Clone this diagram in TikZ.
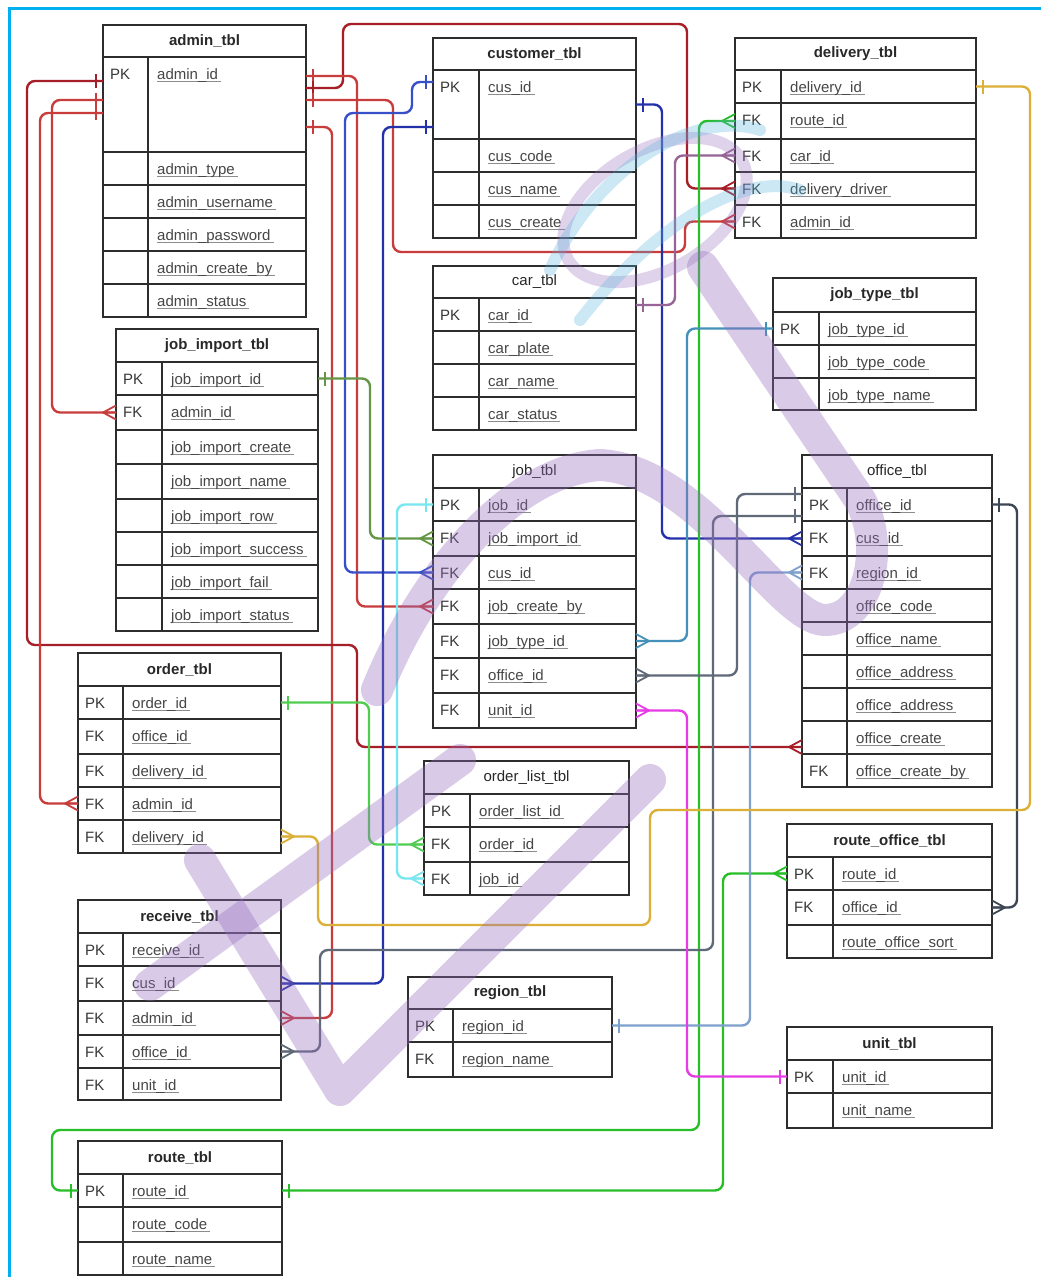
\documentclass[tikz,border=0pt]{standalone}
\usepackage{fontspec}
\setmainfont{Liberation Sans}
\usetikzlibrary{calc}

\definecolor{tline}{RGB}{45,45,45}
\definecolor{htext}{RGB}{40,40,40}
\definecolor{ktext}{RGB}{55,55,55}
\definecolor{ftext}{RGB}{70,70,70}
\definecolor{ulgray}{RGB}{140,140,140}
\definecolor{cyanb}{RGB}{0,175,240}
\definecolor{dred}{RGB}{165,30,40}
\definecolor{rred}{RGB}{200,60,60}
\definecolor{dblue}{RGB}{35,50,170}
\definecolor{mblue}{RGB}{55,80,200}
\definecolor{mauve}{RGB}{150,100,150}
\definecolor{grn}{RGB}{40,190,40}
\definecolor{lgrn}{RGB}{80,205,80}
\definecolor{olivg}{RGB}{100,150,70}
\definecolor{cyanl}{RGB}{120,230,240}
\definecolor{tealc}{RGB}{70,145,185}
\definecolor{slate}{RGB}{95,105,120}
\definecolor{dslate}{RGB}{60,70,85}
\definecolor{steel}{RGB}{125,160,205}
\definecolor{magc}{RGB}{230,60,230}
\definecolor{goldc}{RGB}{220,175,55}
\definecolor{lav}{RGB}{150,110,190}
\definecolor{swirlb}{RGB}{90,180,225}

\newsavebox\fldbox
\newcommand\fld[1]{\sbox\fldbox{#1}\rlap{\color{ulgray}\rule[-2.4pt]{\dimexpr\wd\fldbox+3pt\relax}{0.8pt}}\usebox\fldbox}

\tikzset{
  hdrcell/.style={draw=tline, line width=1.3pt, fill=white, anchor=north west, inner sep=0pt, outer sep=0pt, font=\fontsize{15}{18}\selectfont\bfseries, text=htext},
  rowcell/.style={draw=tline, line width=1.3pt, fill=white, anchor=north west, inner sep=0pt, outer sep=0pt},
  keytxt/.style={anchor=base west, inner sep=0pt, font=\fontsize{15}{18}\selectfont, text=ktext},
  fldtxt/.style={anchor=base west, inner sep=0pt, font=\fontsize{15}{18}\selectfont, text=ftext},
  cn/.style={line width=2.4pt, rounded corners=8pt},
  wm/.style={lav, line width=32pt, line cap=round, line join=round},
  erone/.pic={\draw[line width=2.2pt] (7,-7) -- (7,7);},
  ermany/.pic={\draw[line width=1.8pt] (0,-7) -- (13,0) -- (0,7) (0,0) -- (13,0);},
}

% #1 name, #2 x1, #3 x2, #4 divider x, #5 top, #6 header bottom, #7 title, #8 rows
\newcommand\erTable[8]{%
  \node[hdrcell, minimum width={(#3-#2)*1pt}, minimum height={(#6-#5)*1pt}] (#1-h) at (#2,#5) {#7};
  \foreach \rA/\rB/\rK/\rF [count=\ri] in {#8} {
    \node[rowcell, minimum width={(#3-#2)*1pt}, minimum height={(\rB-\rA)*1pt}] (#1-\ri) at (#2,\rA) {};
    \draw[tline, line width=1.3pt] (#4,\rA) -- (#4,\rB);
    \node[keytxt] at (#2+7,\rA+22.5) {\rK};
    \node[fldtxt] at (#4+9,\rA+22.5) {\fld{\rF}};
  }%
}
\newcommand\tickat[3]{\pic[color=#1,rotate=#3] at (#2) {erone};}
\newcommand\footat[3]{\pic[color=#1,rotate=#3] at (#2) {ermany};}

\begin{document}
\begin{tikzpicture}[x=1pt,y=-1pt]
\useasboundingbox (0,0) rectangle (1041,1277);
\fill[white] (0,0) rectangle (1041,1277);
\draw[cyanb, line width=3pt] (9.5,1277) -- (9.5,8) -- (1041,8);

% ---------------- tables ----------------
\erTable{admin}{103}{306}{148}{25}{57}{admin\_tbl}{57/152/PK/admin\_id, 152/185//admin\_type, 185/218//admin\_username, 218/251//admin\_password, 251/284//admin\_create\_by, 284/317//admin\_status}
\erTable{customer}{433}{636}{479}{38}{70}{customer\_tbl}{70/139/PK/cus\_id, 139/172//cus\_code, 172/205//cus\_name, 205/238//cus\_create}
\erTable{delivery}{735}{976}{781}{38}{70}{delivery\_tbl}{70/103/PK/delivery\_id, 103/139/FK/route\_id, 139/172/FK/car\_id, 172/205/FK/delivery\_driver, 205/238/FK/admin\_id}
\erTable{car}{433}{636}{479}{266}{298}{\mdseries car\_tbl}{298/331/PK/car\_id, 331/364//car\_plate, 364/397//car\_name, 397/430//car\_status}
\erTable{jtype}{773}{976}{819}{278}{312}{job\_type\_tbl}{312/345/PK/job\_type\_id, 345/378//job\_type\_code, 378/410//job\_type\_name}
\erTable{jimp}{116}{318}{162}{329}{362}{job\_import\_tbl}{362/395/PK/job\_import\_id, 395/430/FK/admin\_id, 430/464//job\_import\_create, 464/499//job\_import\_name, 499/532//job\_import\_row, 532/565//job\_import\_success, 565/598//job\_import\_fail, 598/631//job\_import\_status}
\erTable{job}{433}{636}{479}{455}{488}{\mdseries job\_tbl}{488/521/PK/job\_id, 521/556/FK/job\_import\_id, 556/589/FK/cus\_id, 589/624/FK/job\_create\_by, 624/658/FK/job\_type\_id, 658/693/FK/office\_id, 693/728/FK/unit\_id}
\erTable{office}{802}{992}{847}{455}{488}{\mdseries office\_tbl}{488/521/PK/office\_id, 521/556/FK/cus\_id, 556/589/FK/region\_id, 589/622//office\_code, 622/655//office\_name, 655/688//office\_address, 688/721//office\_address, 721/754//office\_create, 754/787/FK/office\_create\_by}
\erTable{order}{78}{281}{123}{653}{686}{order\_tbl}{686/719/PK/order\_id, 719/754/FK/office\_id, 754/787/FK/delivery\_id, 787/820/FK/admin\_id, 820/853/FK/delivery\_id}
\erTable{olist}{424}{629}{470}{761}{794}{\mdseries order\_list\_tbl}{794/827/PK/order\_list\_id, 827/862/FK/order\_id, 862/895/FK/job\_id}
\erTable{receive}{78}{281}{123}{900}{933}{receive\_tbl}{933/966/PK/receive\_id, 966/1001/FK/cus\_id, 1001/1035/FK/admin\_id, 1035/1068/FK/office\_id, 1068/1100/FK/unit\_id}
\erTable{region}{408}{612}{453}{977}{1009}{region\_tbl}{1009/1042/PK/region\_id, 1042/1077/FK/region\_name}
\erTable{rofc}{787}{992}{833}{824}{857}{route\_office\_tbl}{857/890/PK/route\_id, 890/925/FK/office\_id, 925/958//route\_office\_sort}
\erTable{unit}{787}{992}{833}{1027}{1060}{unit\_tbl}{1060/1093/PK/unit\_id, 1093/1128//unit\_name}
\erTable{route}{78}{282}{123}{1141}{1174}{route\_tbl}{1174/1207/PK/route\_id, 1207/1242//route\_code, 1242/1275//route\_name}

% ---------------- connector end points off row centres ----------------
\coordinate (adR76) at ([yshift=28.5pt]admin-1.east);
\coordinate (adR88) at ([yshift=16.5pt]admin-1.east);
\coordinate (adR100) at ([yshift=4.5pt]admin-1.east);
\coordinate (adR127) at ([yshift=-22.5pt]admin-1.east);
\coordinate (adL81) at ([yshift=23.5pt]admin-1.west);
\coordinate (adL100) at ([yshift=4.5pt]admin-1.west);
\coordinate (adL113) at ([yshift=-8.5pt]admin-1.west);
\coordinate (cuL82) at ([yshift=22.5pt]customer-1.west);
\coordinate (cuL127) at ([yshift=-22.5pt]customer-1.west);
\coordinate (carR) at ([yshift=9.5pt]car-1.east);
\coordinate (ofL494) at ([yshift=10.5pt]office-1.west);
\coordinate (ofL516) at ([yshift=-11.5pt]office-1.west);
\coordinate (ofc747) at ([yshift=-9.5pt]office-8.west);

% ---------------- connectors ----------------
\draw[cn,dred] (adR88) -| (343,24) -| ([xshift=-48pt]delivery-4.west) -- (delivery-4.west);
\draw[cn,rred] (adR76) -| ([xshift=-76pt]job-4.west) -- (job-4.west);
\draw[cn,rred] (adR100) -| (393,252) -| ([xshift=-50pt]delivery-5.west) -- (delivery-5.west);
\draw[cn,rred] (adR127) -| ([xshift=51pt]receive-3.east) -- (receive-3.east);
\draw[cn,dred] (adL81) -| (27,645) -| ([xshift=-445pt]ofc747) -- (ofc747);
\draw[cn,rred] (adL100) -| ([xshift=-64pt]jimp-2.west) -- (jimp-2.west);
\draw[cn,rred] (adL113) -| ([xshift=-38pt]order-4.west) -- (order-4.west);
\draw[cn,mblue] (cuL82) -- (412,82) -- (412,113) -| ([xshift=-88pt]job-3.west) -- (job-3.west);
\draw[cn,dblue] (cuL127) -| ([xshift=102pt]receive-2.east) -- (receive-2.east);
\draw[cn,dblue] (customer-1.east) -| ([xshift=-140pt]office-2.west) -- (office-2.west);
\draw[cn,mauve] (carR) -| ([xshift=-60pt]delivery-3.west) -- (delivery-3.west);
\draw[cn,grn] (route-1.west) -| (52,1130) -| ([xshift=-36pt]delivery-2.west) -- (delivery-2.west);
\draw[cn,grn] (route-1.east) -| ([xshift=-64pt]rofc-1.west) -- (rofc-1.west);
\draw[cn,lgrn] (order-1.east) -| ([xshift=-55pt]olist-2.west) -- (olist-2.west);
\draw[cn,olivg] (jimp-1.east) -| ([xshift=-63pt]job-2.west) -- (job-2.west);
\draw[cn,cyanl] (job-1.west) -| ([xshift=-27pt]olist-3.west) -- (olist-3.west);
\draw[cn,tealc] (jtype-1.west) -| ([xshift=51pt]job-5.east) -- (job-5.east);
\draw[cn,slate] (ofL494) -| ([xshift=101pt]job-6.east) -- (job-6.east);
\draw[cn,slate] (ofL516) -| (713,950) -| ([xshift=39pt]receive-4.east) -- (receive-4.east);
\draw[cn,dslate] (office-1.east) -| ([xshift=25pt]rofc-2.east) -- (rofc-2.east);
\draw[cn,steel] (region-1.east) -| ([xshift=-52pt]office-3.west) -- (office-3.west);
\draw[cn,magc] (job-7.east) -| ([xshift=-100pt]unit-1.west) -- (unit-1.west);
\draw[cn,goldc] (delivery-1.east) -| (1030,810) -| (650,925) -| ([xshift=37pt]order-5.east) -- (order-5.east);

% ---------------- ends: one (bar) ----------------
\tickat{rred}{adR76}{0}
\tickat{dred}{adR88}{0}
\tickat{rred}{adR100}{0}
\tickat{rred}{adR127}{0}
\tickat{dred}{adL81}{180}
\tickat{rred}{adL100}{180}
\tickat{rred}{adL113}{180}
\tickat{mblue}{cuL82}{180}
\tickat{dblue}{cuL127}{180}
\tickat{dblue}{customer-1.east}{0}
\tickat{mauve}{carR}{0}
\tickat{grn}{route-1.west}{180}
\tickat{grn}{route-1.east}{0}
\tickat{lgrn}{order-1.east}{0}
\tickat{olivg}{jimp-1.east}{0}
\tickat{cyanl}{job-1.west}{180}
\tickat{tealc}{jtype-1.west}{180}
\tickat{slate}{ofL494}{180}
\tickat{slate}{ofL516}{180}
\tickat{dslate}{office-1.east}{0}
\tickat{steel}{region-1.east}{0}
\tickat{magc}{unit-1.west}{180}
\tickat{goldc}{delivery-1.east}{0}

% ---------------- ends: many (crow's foot) ----------------
\footat{dred}{delivery-4.west}{180}
\footat{rred}{job-4.west}{180}
\footat{rred}{delivery-5.west}{180}
\footat{rred}{receive-3.east}{0}
\footat{dred}{ofc747}{180}
\footat{rred}{jimp-2.west}{180}
\footat{rred}{order-4.west}{180}
\footat{mblue}{job-3.west}{180}
\footat{dblue}{receive-2.east}{0}
\footat{dblue}{office-2.west}{180}
\footat{mauve}{delivery-3.west}{180}
\footat{grn}{delivery-2.west}{180}
\footat{grn}{rofc-1.west}{180}
\footat{lgrn}{olist-2.west}{180}
\footat{olivg}{job-2.west}{180}
\footat{cyanl}{olist-3.west}{180}
\footat{tealc}{job-5.east}{0}
\footat{slate}{job-6.east}{0}
\footat{slate}{receive-4.east}{0}
\footat{dslate}{rofc-2.east}{0}
\footat{steel}{office-3.west}{180}
\footat{magc}{job-7.east}{0}
\footat{goldc}{order-5.east}{0}

% ---------------- watermark ----------------
\begin{scope}[opacity=0.36]
  \draw[wm] (200,860) -- (340,1090) -- (650,780);
  \draw[wm] (150,985) -- (460,760);
  \draw[wm] (377,690) .. controls (430,560) and (520,470) .. (600,465) .. controls (700,470) and (780,620) .. (825,620) .. controls (870,620) and (885,545) .. (860,500) -- (703,267);
\end{scope}
\begin{scope}[opacity=0.3, line cap=round]
  \draw[lav, line width=12pt, rotate around={30:(655,210)}] (655,210) ellipse [x radius=100, y radius=60];
  \draw[swirlb, line width=12pt] (550,270) .. controls (600,160) and (700,110) .. (760,130);
  \draw[swirlb, line width=12pt] (580,320) .. controls (650,230) and (740,170) .. (800,190);
\end{scope}
\end{tikzpicture}
\end{document}
